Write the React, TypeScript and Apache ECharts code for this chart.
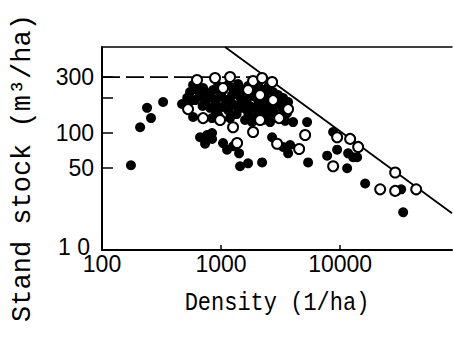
import React, { useEffect, useRef } from "react";
import * as echarts from "echarts";

// Density (1/ha), stand stock (m3/ha)
const solidPoints: [number, number][] = [
  [175, 53], [209, 112], [239, 164], [258, 134], [326, 184], [470, 177], [582, 137],
  [582, 257], [549, 224], [628, 233], [706, 242], [666, 207], [763, 220], [857, 233],
  [944, 252], [1039, 233], [1145, 257], [1261, 242], [1390, 262], [1531, 233], [1686, 252],
  [1857, 242], [2046, 257], [2254, 233], [2483, 247], [2735, 224], [3013, 211], [3319, 199],
  [3656, 184], [605, 191], [734, 184], [840, 199], [981, 203], [1102, 191], [1237, 211],
  [1444, 203], [1622, 191], [1822, 207], [2046, 191], [2343, 199], [2581, 177], [2899, 180],
  [3256, 164], [3586, 148], [808, 164], [908, 151], [1020, 167], [1145, 157], [1311, 173],
  [1501, 164], [1686, 151], [1931, 164], [2211, 157], [2483, 145], [2788, 148], [3132, 137],
  [3451, 127], [840, 134], [1190, 134], [1591, 129], [1822, 124], [2581, 124],
  [520, 200], [560, 190], [700, 170], [900, 175], [1200, 185], [1500, 180], [1750, 170],
  [2100, 175], [2400, 165], [2700, 160], [1000, 215], [1300, 225], [1900, 220], [2300, 215],
  [3000, 190], [950, 140], [1350, 145], [1700, 140], [2000, 140], [2300, 130],
  [666, 92], [734, 81], [840, 100], [840, 89], [763, 96], [1039, 82], [1123, 72], [1261, 77],
  [1417, 67], [1444, 52], [1686, 55], [2211, 56], [2683, 92], [3319, 76], [3800, 79],
  [3656, 67], [5383, 56], [4027, 124], [5280, 124],
  [8734, 102], [9436, 72], [7778, 64], [11675, 67], [12859, 62], [13897, 62], [11450, 50],
  [16226, 37], [32550, 33], [33830, 21],
];

const openPoints: [number, number][] = [
  [528, 160], [628, 284], [890, 295], [1190, 301], [1857, 278], [2211, 295], [2683, 273],
  [706, 134], [981, 129], [1039, 242], [1686, 233], [2127, 211], [2735, 191], [3656, 160],
  [2127, 129], [3072, 134], [1261, 112], [1857, 102], [1363, 82], [2955, 81], [4524, 73],
  [5081, 96], [9436, 92], [12134, 89], [14169, 76], [8734, 52], [21684, 33], [28991, 46],
  [28991, 32], [43530, 33],
];

const limitLine: [number, number][] = [[1080, 543], [87000, 20.6]];
const maxStockLine: [number, number][] = [[100, 300], [2400, 300]];

const xLabels = [100, 1000, 10000];
const xTicks = [1000, 10000];
const yLabels = [10, 50, 100, 300];
const yTicks = [50, 100, 200, 300];

export default function App() {
  const ref = useRef<HTMLDivElement>(null);
  useEffect(() => {
    if (!ref.current) return;
    const chart = echarts.init(ref.current, undefined, { renderer: "svg" });
    const labelFont = "'Liberation Sans', Arial, sans-serif";
    const titleFont = "'Liberation Mono', 'DejaVu Sans Mono', monospace";
    chart.setOption({
      animation: false,
      backgroundColor: "#fff",
      grid: { left: 102, top: 47, right: 1, bottom: 88, containLabel: false },
      xAxis: [
        {
          type: "log",
          logBase: 10,
          min: 100,
          max: 87000,
          axisLine: { show: true, onZero: false, lineStyle: { color: "#000", width: 2 } },
          axisTick: { show: true, inside: true, length: 5, customValues: xTicks, lineStyle: { color: "#000", width: 1.5 } },
          axisLabel: {
            show: true,
            customValues: xLabels,
            color: "#000",
            fontFamily: labelFont,
            fontSize: 23,
            margin: 2,
            formatter: (v: number) => String(Math.round(v)),
          },
          splitLine: { show: false },
          minorTick: { show: false },
        },
        {
          type: "log",
          logBase: 10,
          min: 100,
          max: 87000,
          position: "top",
          axisLine: { show: true, onZero: false, lineStyle: { color: "#000", width: 1.5 } },
          axisTick: { show: false },
          axisLabel: { show: false },
          splitLine: { show: false },
        },
      ],
      yAxis: {
        type: "log",
        logBase: 10,
        min: 10,
        max: 543,
        axisLine: { show: true, onZero: false, lineStyle: { color: "#000", width: 2 } },
        axisTick: { show: true, inside: true, length: 11, customValues: yTicks, lineStyle: { color: "#000", width: 1.5 } },
        axisLabel: {
          show: true,
          customValues: yLabels,
          color: "#000",
          fontFamily: labelFont,
          fontSize: 23,
          margin: 8,
          formatter: (v: number) => (Math.round(v) === 10 ? "{ten|1 0}" : String(Math.round(v))),
          rich: {
            ten: {
              fontFamily: labelFont,
              fontSize: 23,
              color: "#000",
              padding: [0, 4, 6, 0],
            },
          },
        },
        splitLine: { show: false },
      },
      graphic: [
        {
          type: "text",
          x: 277,
          y: 303,
          scaleY: 1.2,
          style: {
            text: "Density (1/ha)",
            fontFamily: titleFont,
            fontSize: 22,
            fill: "#000",
            align: "center",
            verticalAlign: "middle",
          },
        },
        {
          type: "text",
          x: 23,
          y: 168,
          rotation: Math.PI / 2,
          style: {
            text: "Stand stock (m³/ha)",
            fontFamily: titleFont,
            fontSize: 27,
            fill: "#000",
            align: "center",
            verticalAlign: "middle",
          },
        },
      ],
      series: [
        {
          type: "line",
          data: limitLine,
          symbol: "none",
          lineStyle: { color: "#000", width: 1.8 },
          z: 1,
        },
        {
          type: "line",
          data: maxStockLine,
          symbol: "none",
          lineStyle: { color: "#000", width: 1.8, type: [18, 6] },
          z: 1,
        },
        {
          type: "scatter",
          data: solidPoints,
          symbol: "circle",
          symbolSize: 10,
          itemStyle: { color: "#000", opacity: 1 },
          z: 2,
        },
        {
          type: "scatter",
          data: openPoints,
          symbol: "circle",
          symbolSize: 10,
          itemStyle: { color: "#fff", borderColor: "#000", borderWidth: 2, opacity: 1 },
          z: 3,
        },
      ],
    });
    return () => chart.dispose();
  }, []);
  return (
    <div
      ref={ref}
      style={{ position: "absolute", left: 0, top: 0, width: 453, height: 338 }}
    />
  );
}
